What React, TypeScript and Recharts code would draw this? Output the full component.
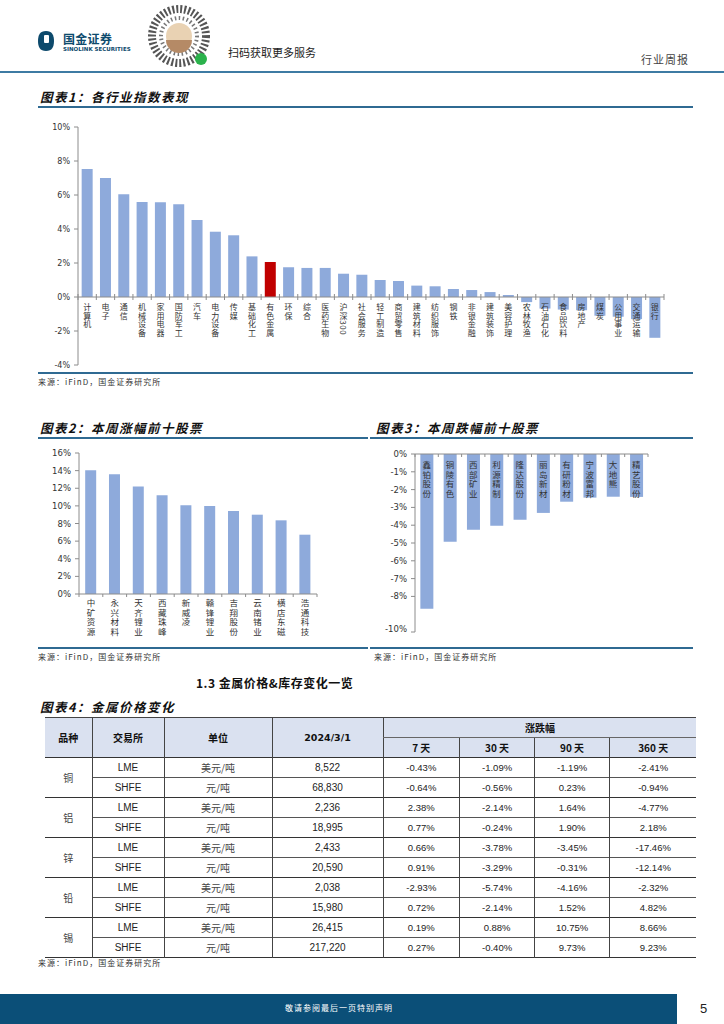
import React from 'react';
import { BarChart, Bar, XAxis, YAxis, Cell, ReferenceLine } from 'recharts';

const CJK = '"Noto Sans CJK SC", "Noto Sans", sans-serif';
const BAR_BLUE = '#8eaadb';
const BAR_RED = '#c00000';
const RULE = '#2f6a92';
const AXIS = '#8c8c8c';
const TEXT = '#333';

// 图表1：各行业指数表现 (%)
const industries = [
  '计算机', '电子', '通信', '机械设备', '家用电器', '国防军工', '汽车', '电力设备',
  '传媒', '基础化工', '有色金属', '环保', '综合', '医药生物', '沪深300', '社会服务',
  '轻工制造', '商贸零售', '建筑材料', '纺织服饰', '钢铁', '非银金融', '建筑装饰', '美容护理',
  '农林牧渔', '石油石化', '食品饮料', '房地产', '煤炭', '公用事业', '交通运输', '银行',
];
const industryChange = [
  7.53, 7.0, 6.04, 5.59, 5.57, 5.45, 4.53, 3.84,
  3.63, 2.39, 2.06, 1.75, 1.71, 1.71, 1.37, 1.31,
  1.0, 0.94, 0.67, 0.63, 0.47, 0.41, 0.29, 0.12,
  -0.3, -0.68, -0.74, -0.78, -1.1, -1.16, -1.3, -2.4,
];
const highlightIndustry = '有色金属';
const industryTicks = [-4, -2, 0, 2, 4, 6, 8, 10];

// 图表2：本周涨幅前十股票 (%)
const gainers = ['中矿资源', '永兴材料', '天齐锂业', '西藏珠峰', '新威凌', '赣锋锂业', '吉翔股份', '云南锗业', '横店东磁', '浩通科技'];
const gainerChange = [14.03, 13.6, 12.2, 11.2, 10.06, 9.98, 9.42, 9.0, 8.36, 6.73];
const gainerTicks = [0, 2, 4, 6, 8, 10, 12, 14, 16];

// 图表3：本周跌幅前十股票 (%)
const losers = ['鑫铂股份', '铜陵有色', '西部矿业', '利源精制', '隆达股份', '丽岛新材', '有研粉材', '宁波富邦', '大地熊', '精艺股份'];
const loserChange = [-8.69, -4.93, -4.25, -4.03, -3.69, -3.31, -2.68, -2.45, -2.4, -2.41];
const loserTicks = [0, -1, -2, -3, -4, -5, -6, -7, -8, -9, -10];

// 图表4：金属价格变化
const metals = ['铜', '铝', '锌', '铅', '锡'];
const exchanges = ['LME', 'SHFE'];
const units = ['美元/吨', '元/吨'];
const periods = ['7 天', '30 天', '90 天', '360 天'];
const prices = ['8,522', '68,830', '2,236', '18,995', '2,433', '20,590', '2,038', '15,980', '26,415', '217,220'];
const change7d = ['-0.43%', '-0.64%', '2.38%', '0.77%', '0.66%', '0.91%', '-2.93%', '0.72%', '0.19%', '0.27%'];
const change30d = ['-1.09%', '-0.56%', '-2.14%', '-0.24%', '-3.78%', '-3.29%', '-5.74%', '-2.14%', '0.88%', '-0.40%'];
const change90d = ['-1.19%', '0.23%', '1.64%', '1.90%', '-3.45%', '-0.31%', '-4.16%', '1.52%', '10.75%', '9.73%'];
const change360d = ['-2.41%', '-0.94%', '-4.77%', '2.18%', '-17.46%', '-12.14%', '-2.32%', '4.82%', '8.66%', '9.23%'];

const industryData = industries.map((name, i) => ({ name, value: industryChange[i] }));
const gainerData = gainers.map((name, i) => ({ name, value: gainerChange[i] }));
const loserData = losers.map((name, i) => ({ name, value: loserChange[i] }));

// chart 1 layout
const C1 = { w: 724, h: 262, m: { top: 10, right: 60, bottom: 0, left: 38 }, yw: 40, xh: 14 };
const C1_PLOT_W = C1.w - C1.m.left - C1.m.right - C1.yw;
const C1_PLOT_H = C1.h - C1.m.top - C1.m.bottom - C1.xh;

// chart 2 layout
const C2 = { w: 340, h: 203, m: { top: 10, right: 23, bottom: 0, left: 39 }, yw: 40, xh: 52 };
const C2_PLOT_W = C2.w - C2.m.left - C2.m.right - C2.yw;

// chart 3 layout
const C3 = { w: 300, h: 190, m: { top: 9, right: 22, bottom: 2, left: 5 }, yw: 40, xh: 1 };
const C3_PLOT_W = C3.w - C3.m.left - C3.m.right - C3.yw;

const pct = (v: number) => `${v}%`;

// one text element, set top to bottom; digits lie on their side like the original
const VerticalText = ({ x, y, text, size, spacing }: any) => (
  <text x={x} y={y} fontSize={size} fill={TEXT} fontFamily={CJK} textAnchor="start"
    letterSpacing={spacing} style={{ writingMode: 'vertical-rl' } as any}>
    {text}
  </text>
);

const IndustryTick = (props: any) => {
  const { x, y, payload, index } = props;
  // x axis sits at the bottom; the labels hang from the zero line
  const zeroY = y - (C1_PLOT_H * (0 - industryTicks[0])) / (industryTicks[industryTicks.length - 1] - industryTicks[0]);
  const step = C1_PLOT_W / industries.length;
  return (
    <g>
      <line x1={x + step / 2} x2={x + step / 2} y1={zeroY - 3} y2={zeroY + 3} stroke={AXIS} />
      {index === 0 && <line x1={x - step / 2} x2={x - step / 2} y1={zeroY - 3} y2={zeroY + 3} stroke={AXIS} />}
      <VerticalText x={x} y={zeroY + 6} text={payload.value} size={8} spacing={0.6} />
    </g>
  );
};

const GainerTick = (props: any) => {
  const { x, y, payload, index } = props;
  const step = C2_PLOT_W / gainers.length;
  return (
    <g>
      <line x1={x + step / 2} x2={x + step / 2} y1={y} y2={y + 3} stroke={AXIS} />
      {index === 0 && <line x1={x - step / 2} x2={x - step / 2} y1={y} y2={y + 3} stroke={AXIS} />}
      <VerticalText x={x} y={y + 5} text={payload.value} size={8.5} spacing={0.9} />
    </g>
  );
};

const LoserTick = (props: any) => {
  const { x, y, payload, index } = props;
  const step = C3_PLOT_W / losers.length;
  return (
    <g>
      <line x1={x + step / 2} x2={x + step / 2} y1={y} y2={y + 3} stroke={AXIS} />
      {index === 0 && <line x1={x - step / 2} x2={x - step / 2} y1={y} y2={y + 3} stroke={AXIS} />}
      <VerticalText x={x} y={y + 6.5} text={payload.value} size={8.5} spacing={1.1} />
    </g>
  );
};

const Abs = ({ left, top, children, style }: any) => (
  <div style={{ position: 'absolute', left, top, lineHeight: 1, whiteSpace: 'nowrap', ...style }}>{children}</div>
);

const Rule = ({ left, top, width, h = 2 }: any) => (
  <div style={{ position: 'absolute', left, top, width, height: h, background: RULE }} />
);

const titleStyle = { fontSize: 12.5, fontWeight: 700, fontStyle: 'italic', letterSpacing: 1.5, color: '#111' };
const sourceStyle = { fontSize: 8, color: TEXT, letterSpacing: 1 };

const Header = () => (
  <>
    <svg style={{ position: 'absolute', left: 36, top: 30 }} width={20} height={22}>
      <path d="M10 1 C4 1 2 5 2 11 C2 17 4 21 10 21 C16 21 18 17 18 11 C18 5 16 1 10 1 Z" fill="#0d4a6c" />
      <rect x={8} y={5} width={5} height={8} rx={1} fill="#fff" />
    </svg>
    <Abs left={63} top={33} style={{ fontSize: 12, fontWeight: 700, color: '#0d4a6c', letterSpacing: 0.3 }}>国金证券</Abs>
    <Abs left={63} top={47} style={{ fontSize: 5.5, fontWeight: 700, color: '#0d4a6c', fontFamily: '"DejaVu Sans"' }}>SINOLINK SECURITIES</Abs>
    <svg style={{ position: 'absolute', left: 148, top: 4 }} width={66} height={66}>
      <circle cx={31} cy={32} r={27} fill="none" stroke="#555" strokeWidth={8} strokeDasharray="2 2" />
      <circle cx={31} cy={32} r={18} fill="none" stroke="#777" strokeWidth={4} strokeDasharray="1.5 2.5" />
      <circle cx={31} cy={32} r={13} fill="#e9d2b3" />
      <path d="M18 36 A13 13 0 0 0 44 36 Z" fill="#b58a66" />
      <circle cx={53} cy={55} r={6} fill="#2bb24c" />
    </svg>
    <Abs left={228} top={47} style={{ fontSize: 11, color: '#222' }}>扫码获取更多服务</Abs>
    <Abs left={641} top={54} style={{ fontSize: 11, color: '#444', letterSpacing: 1 }}>行业周报</Abs>
    <div style={{ position: 'absolute', left: 0, top: 71, width: 724, height: 2, background: '#3d7ba3' }} />
  </>
);

const thBase: React.CSSProperties = { background: '#dae1f0', fontWeight: 700, fontSize: 10, color: '#111', padding: 0, textAlign: 'center' };
const VLINE = '1.5px solid #444';

const MetalTable = () => {
  const cols = [47, 72, 108, 111, 76.6, 75, 75, 86.7];
  const changeCols = [change7d, change30d, change90d, change360d];
  return (
    <table style={{ position: 'absolute', left: 45, top: 717, width: 651, borderCollapse: 'collapse', tableLayout: 'fixed', fontFamily: CJK }}>
      <colgroup>{cols.map((w, i) => <col key={i} style={{ width: w }} />)}</colgroup>
      <thead>
        <tr style={{ height: 20 }}>
          <th rowSpan={2} style={{ ...thBase, borderTop: VLINE }}>品种</th>
          <th rowSpan={2} style={{ ...thBase, borderTop: VLINE, borderLeft: VLINE }}>交易所</th>
          <th rowSpan={2} style={{ ...thBase, borderTop: VLINE, borderLeft: VLINE }}>单位</th>
          <th rowSpan={2} style={{ ...thBase, borderTop: VLINE, borderLeft: VLINE, fontFamily: '"DejaVu Sans", sans-serif', fontSize: 9.5 }}>2024/3/1</th>
          <th colSpan={4} style={{ ...thBase, borderTop: VLINE, borderLeft: VLINE, borderBottom: '1px solid #666' }}>涨跌幅</th>
        </tr>
        <tr style={{ height: 20 }}>
          {periods.map((p, i) => (
            <th key={p} style={{ ...thBase, borderLeft: i === 0 ? VLINE : '1px solid #444' }}>{p}</th>
          ))}
        </tr>
      </thead>
      <tbody>
        {metals.map((m, mi) =>
          exchanges.map((ex, ei) => {
            const k = mi * 2 + ei;
            const top = ei === 0 ? '1.5px solid #333' : '1px solid #555';
            const td: React.CSSProperties = { padding: 0, textAlign: 'center', fontSize: 10, color: '#222', borderTop: top, height: 19 };
            return (
              <tr key={k}>
                {ei === 0 && <td rowSpan={2} style={{ ...td, color: '#444' }}>{m}</td>}
                <td style={{ ...td, borderLeft: VLINE, fontFamily: '"Liberation Sans", sans-serif' }}>{ex}</td>
                <td style={{ ...td, borderLeft: VLINE, color: '#444' }}>{units[ei]}</td>
                <td style={{ ...td, borderLeft: VLINE, fontFamily: '"Liberation Sans", sans-serif' }}>{prices[k]}</td>
                {changeCols.map((c, ci) => (
                  <td key={ci} style={{ ...td, borderLeft: ci === 0 ? VLINE : '1px solid #444', fontFamily: '"Liberation Sans", sans-serif', fontSize: 9.5 }}>{c[k]}</td>
                ))}
              </tr>
            );
          })
        )}
        <tr><td colSpan={8} style={{ borderTop: '1.5px solid #333', height: 0, padding: 0 }} /></tr>
      </tbody>
    </table>
  );
};

export default function App() {
  return (
    <div style={{ position: 'absolute', left: 0, top: 0, width: 724, height: 1024, background: '#fff', fontFamily: CJK, overflow: 'hidden' }}>
      <Header />

      {/* 图表1 */}
      <Abs left={40} top={91} style={titleStyle}>图表1：各行业指数表现</Abs>
      <Rule left={38} top={106} width={655} />
      <div style={{ position: 'absolute', left: 0, top: 117 }}>
        <BarChart width={C1.w} height={C1.h} data={industryData} margin={C1.m} barCategoryGap="20%">
          <XAxis dataKey="name" interval={0} axisLine={false} tickLine={false} tickSize={0} tickMargin={0}
            height={C1.xh} tick={(p: any) => <IndustryTick {...p} />} />
          <YAxis domain={[-4, 10]} ticks={industryTicks} width={C1.yw} tickFormatter={pct}
            axisLine={{ stroke: AXIS }} tickLine={{ stroke: AXIS }} tickSize={4} tickMargin={4}
            tick={{ fontSize: 8, fill: TEXT, fontFamily: '"DejaVu Sans", sans-serif' }} />
          <Bar dataKey="value" isAnimationActive={false}>
            {industryData.map((d) => (
              <Cell key={d.name} fill={d.name === highlightIndustry ? BAR_RED : BAR_BLUE} />
            ))}
          </Bar>
          <ReferenceLine y={0} stroke={AXIS} />
        </BarChart>
      </div>
      <Rule left={38} top={372} width={655} />
      <Abs left={38} top={378} style={sourceStyle}>来源：iFinD，国金证券研究所</Abs>

      {/* 图表2 */}
      <Abs left={40} top={422} style={titleStyle}>图表2：本周涨幅前十股票</Abs>
      <Rule left={38} top={437} width={330} />
      <div style={{ position: 'absolute', left: 0, top: 443 }}>
        <BarChart width={C2.w} height={C2.h} data={gainerData} margin={C2.m} barCategoryGap="26%">
          <XAxis dataKey="name" interval={0} axisLine={{ stroke: AXIS }} tickLine={false} tickSize={0} tickMargin={0}
            height={C2.xh} tick={(p: any) => <GainerTick {...p} />} />
          <YAxis domain={[0, 16]} ticks={gainerTicks} width={C2.yw} tickFormatter={pct}
            axisLine={{ stroke: AXIS }} tickLine={{ stroke: AXIS }} tickSize={4} tickMargin={4}
            tick={{ fontSize: 8.5, fill: TEXT, fontFamily: '"DejaVu Sans", sans-serif' }} />
          <Bar dataKey="value" fill={BAR_BLUE} isAnimationActive={false} />
        </BarChart>
      </div>
      <Rule left={38} top={647} width={330} />
      <Abs left={38} top={653} style={sourceStyle}>来源：iFinD，国金证券研究所</Abs>

      {/* 图表3 */}
      <Abs left={376} top={422} style={titleStyle}>图表3：本周跌幅前十股票</Abs>
      <Rule left={370} top={437} width={323} />
      <div style={{ position: 'absolute', left: 370, top: 444 }}>
        <BarChart width={C3.w} height={C3.h} data={loserData} margin={C3.m} barCategoryGap="23%">
          <XAxis dataKey="name" orientation="top" interval={0} axisLine={{ stroke: AXIS }} tickLine={false}
            tickSize={0} tickMargin={0} height={C3.xh} tick={(p: any) => <LoserTick {...p} />} />
          <YAxis domain={[-10, 0]} ticks={loserTicks} width={C3.yw} tickFormatter={pct}
            axisLine={{ stroke: AXIS }} tickLine={{ stroke: AXIS }} tickSize={4} tickMargin={4}
            tick={{ fontSize: 8.5, fill: TEXT, fontFamily: '"DejaVu Sans", sans-serif' }} />
          <Bar dataKey="value" fill={BAR_BLUE} isAnimationActive={false} />
        </BarChart>
      </div>
      <Rule left={370} top={647} width={323} />
      <Abs left={374} top={653} style={sourceStyle}>来源：iFinD，国金证券研究所</Abs>

      {/* 图表4 */}
      <Abs left={196} top={677} style={{ fontSize: 12, fontWeight: 700, color: '#111', letterSpacing: 0.5 }}>1.3 金属价格&amp;库存变化一览</Abs>
      <Abs left={40} top={701} style={titleStyle}>图表4：金属价格变化</Abs>
      <MetalTable />
      <Abs left={38} top={959} style={sourceStyle}>来源：iFinD，国金证券研究所</Abs>

      {/* footer */}
      <div style={{ position: 'absolute', left: 0, top: 994, width: 677, height: 30, background: '#0b4f78' }} />
      <Abs left={285} top={1004} style={{ fontSize: 8, color: '#fff', letterSpacing: 1 }}>敬请参阅最后一页特别声明</Abs>
      <Abs left={700} top={1002} style={{ fontSize: 13, color: '#222', fontFamily: '"Liberation Sans", sans-serif' }}>5</Abs>
    </div>
  );
}
